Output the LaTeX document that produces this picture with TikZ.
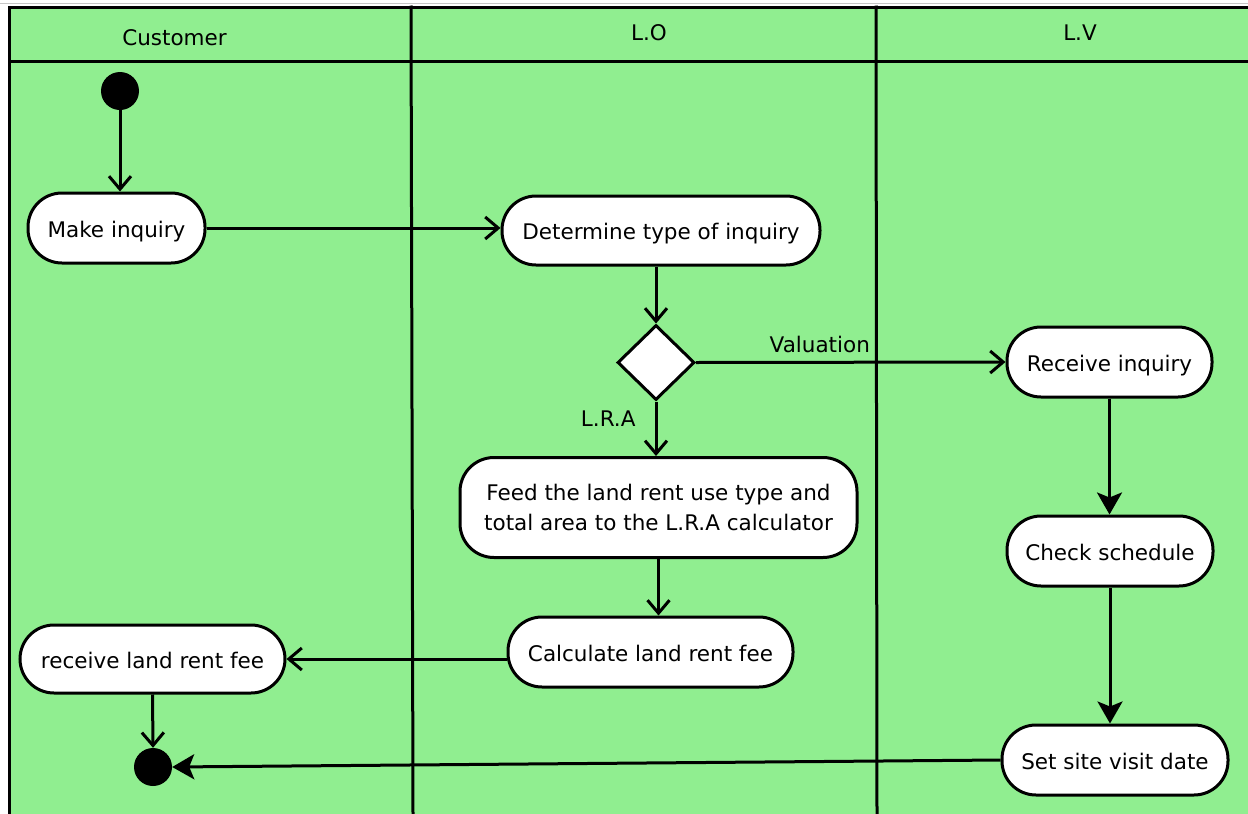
\documentclass[tikz,border=0pt]{standalone}
\usepackage{fontspec}
\setmainfont{DejaVu Sans}
\usetikzlibrary{shapes.geometric,arrows.meta}
\definecolor{lanegreen}{HTML}{90EE90}
\begin{document}
\begin{tikzpicture}[x=1pt,y=-1pt,
  lane/.style={line width=3pt, line cap=rect},
  act/.style={draw, line width=3pt, fill=white, rounded corners=34pt, inner sep=0pt,
    align=center, font=\fontsize{21.5}{29.5}\selectfont},
  one/.style={text height=20pt, text depth=2pt},
  hdr/.style={anchor=base, inner sep=0pt, font=\fontsize{21.5}{26}\selectfont},
  dot/.style={circle, fill=black, minimum size=38pt, inner sep=0pt},
  decision/.style={diamond, draw, line width=3pt, fill=white, inner sep=0pt,
    minimum width=77pt, minimum height=75pt},
  lbl/.style={inner sep=0pt, font=\fontsize{21.5}{26}\selectfont},
  flow/.style={line width=3pt, -{Straight Barb[length=13pt,width=22pt]}},
  flowf/.style={line width=3pt, -{Stealth[length=22pt,width=25pt,inset=5pt]}}
]
\useasboundingbox (0,0) rectangle (1248,814);
% swimlanes
\fill[lanegreen] (9,7) rectangle (1248,814);
\draw[gray!45, line width=1.5pt] (0,3.5) -- (1248,3.5);
\draw[lane] (9,7) -- (1248,7);
\draw[lane] (9,61) -- (1248,61);
\draw[lane] (9,7) -- (9,814);
\draw[lane] (411,7) -- (413,814);
\draw[lane] (876,7) -- (877,814);
\node[hdr] (hcust) at (174.5,45) {Customer};
\node[hdr] (hlo) at (649,40) {L.O};
\node[hdr] (hlv) at (1080,40) {L.V};
% nodes
\node[dot] (start) at (120,91) {};
\node[act, one, minimum width=177pt, minimum height=70pt] (make) at (116.5,228) {Make inquiry};
\node[act, one, minimum width=318pt, minimum height=69pt] (det) at (661,230.5) {Determine type of inquiry};
\node[decision] (dec) at (656,362.5) {};
\node[act, minimum width=397pt, minimum height=100pt] (feed) at (658.5,507.5)
  {Feed the land rent use type and\\total area to the L.R.A calculator};
\node[act, one, minimum width=285pt, minimum height=70pt] (calc) at (650.5,652) {Calculate land rent fee};
\node[act, one, minimum width=265pt, minimum height=68pt] (recv) at (152.5,659) {receive land rent fee};
\node[dot] (end) at (153,767) {};
\node[act, one, minimum width=205pt, minimum height=70pt] (rinq) at (1109.5,362) {Receive inquiry};
\node[act, one, minimum width=206pt, minimum height=70pt] (check) at (1110,551) {Check schedule};
\node[act, one, minimum width=226pt, minimum height=70pt] (setv) at (1115,760) {Set site visit date};
% connectors
\draw[flow] (start.south) -- (start.south |- make.north);
\draw[flow] (make.east) -- (det.west |- make.east);
\draw[flow] (dec.north |- det.south) -- (dec.north);
\draw[flow] (dec.east) -- node[lbl, pos=0.4, anchor=base, yshift=10pt] {Valuation} (rinq.west);
\draw[flow] (dec.south) -- node[lbl, pos=0.46, anchor=base east, xshift=-19pt] {L.R.A} (dec.south |- feed.north);
\draw[flow] (feed.south) -- (feed.south |- calc.north);
\draw[flow] (calc.west |- recv.east) -- (recv.east);
\draw[flow] (recv.south) -- (end.north);
\draw[flowf] (rinq.south) -- (rinq.south |- check.north);
\draw[flowf] (check.south) -- (check.south |- setv.north);
\draw[flowf] (setv.west) -- (end.east);
\end{tikzpicture}
\end{document}
